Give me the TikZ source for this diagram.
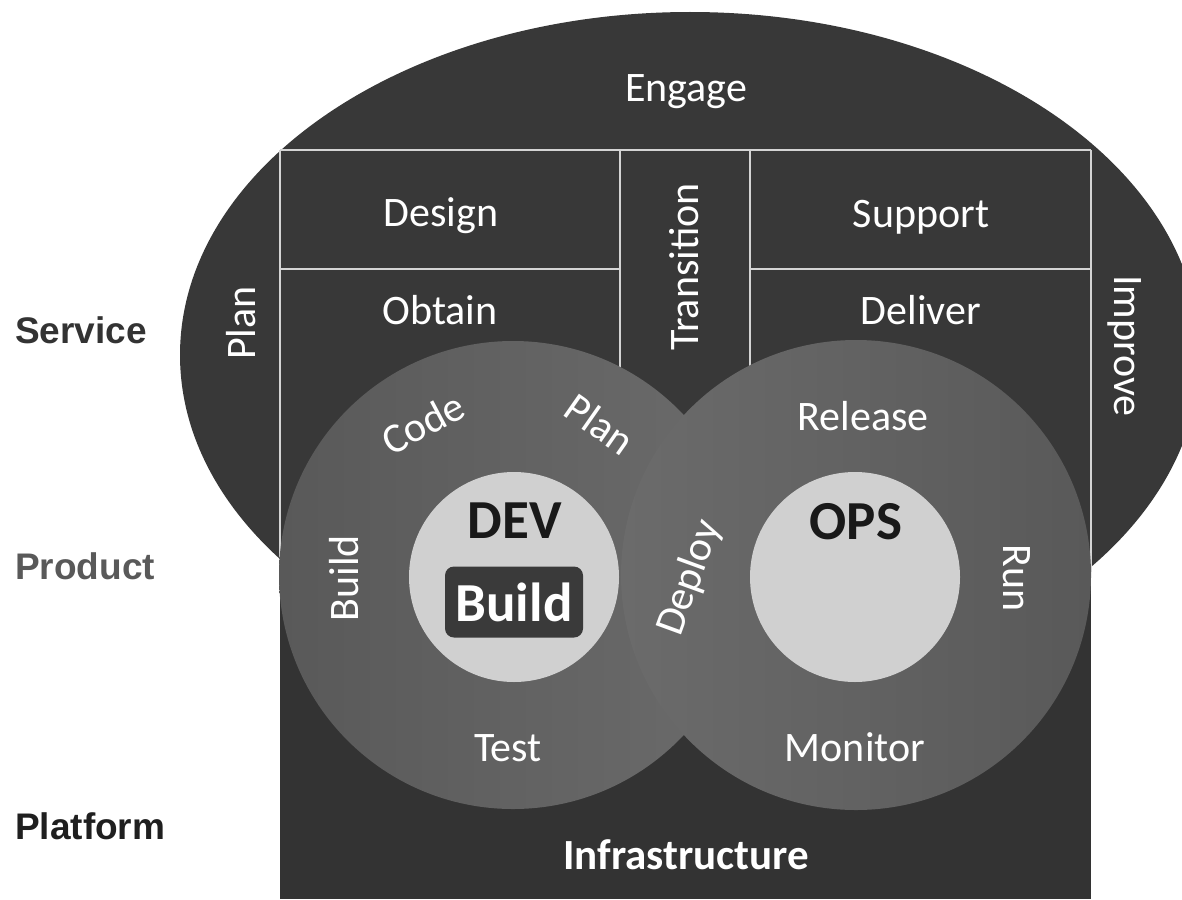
\documentclass[tikz,border=0pt]{standalone}
\usepackage{fontspec}
\setmainfont{Carlito}
\newfontfamily\labelfont{Liberation Sans}
\definecolor{shell}{HTML}{383838}
\definecolor{base}{HTML}{333333}
\definecolor{gridline}{HTML}{D4D4D4}
\definecolor{ringdark}{HTML}{595959}
\definecolor{ringlight}{HTML}{6B6B6B}
\definecolor{core}{HTML}{D0D0D0}
\definecolor{corebox}{HTML}{3A3A3A}
\begin{document}
\begin{tikzpicture}[x=1pt,y=-1pt,
  wtext/.style={text=white,inner sep=0pt,font=\fontsize{42}{48}\selectfont},
  btext/.style={text=black!90,inner sep=0pt,font=\bfseries\fontsize{55}{60}\selectfont},
  layer/.style={anchor=west,inner sep=0pt,font=\labelfont\bfseries\fontsize{37}{44}\selectfont},
  grid/.style={draw=gridline,line width=2.5pt}]
\useasboundingbox (0,0) rectangle (1182,899);
\clip (0,0) rectangle (1182,899);
\fill[white] (0,0) rectangle (1182,899);

% service ellipse and platform block
\fill[shell] (690,355) ellipse [x radius=510pt, y radius=343pt];
\fill[base] (280,560) rectangle (1091,899);
\fill[shell] (280,150) rectangle (1091,560);

% service grid
\draw[grid] (280,150) -- (1091,150);
\draw[grid] (280,150) -- (280,557);
\draw[grid] (1091,150) -- (1091,572);
\draw[grid] (620,150) -- (620,400);
\draw[grid] (750,150) -- (750,400);
\draw[grid] (280,269) -- (620,269);
\draw[grid] (750,269) -- (1091,269);

% product rings
\shade[left color=ringdark,right color=ringlight] (513,575) circle [radius=234pt];
\shade[left color=ringlight,right color=ringdark] (856,575) circle [radius=235pt];
\fill[core] (514,577) circle [radius=105pt];
\fill[core] (855,577) circle [radius=105pt];

% layer labels
\node[layer,text=black!80] (service) at (15,330) {Service};
\node[layer,text=black!65] (product) at (15,566) {Product};
\node[layer,text=black!88] (platform) at (15,826) {Platform};

% service texts
\node[wtext] (engage) at (686,92) {Engage};
\node[wtext] (design) at (441,216) {Design};
\node[wtext] (obtain) at (440,310) {Obtain};
\node[wtext] (support) at (921,217) {Support};
\node[wtext] (deliver) at (921,310) {Deliver};
\node[wtext,rotate=90] (transition) at (684,267) {Transition};
\node[wtext,rotate=90] (splan) at (241,323) {Plan};
\node[wtext,rotate=-90] (improve) at (1125,346) {Improve};

% dev ring
\node[wtext,rotate=28] (code) at (423,423) {Code};
\node[wtext,rotate=-35] (dplan) at (600,424) {Plan};
\node[wtext,rotate=90] (dbuild) at (344,578) {Build};
\node[wtext] (test) at (508,748) {Test};
\node[btext] (dev) at (515,521) {DEV};
\node[fill=corebox,rounded corners=9pt,minimum width=138pt,minimum height=71pt,
      text=white,inner sep=0pt,font=\bfseries\fontsize{55}{60}\selectfont] (buildbox) at (514,602) {Build};

% ops ring
\node[wtext,rotate=70] (deploy) at (690,578) {Deploy};
\node[wtext] (release) at (863,416) {Release};
\node[wtext,rotate=-90] (run) at (1017,578) {Run};
\node[wtext] (monitor) at (855,747) {Monitor};
\node[btext] (ops) at (856,522) {OPS};

% platform
\node[text=white,inner sep=0pt,font=\bfseries\fontsize{43}{48}\selectfont] (infra) at (686,855) {Infrastructure};
\end{tikzpicture}
\end{document}
